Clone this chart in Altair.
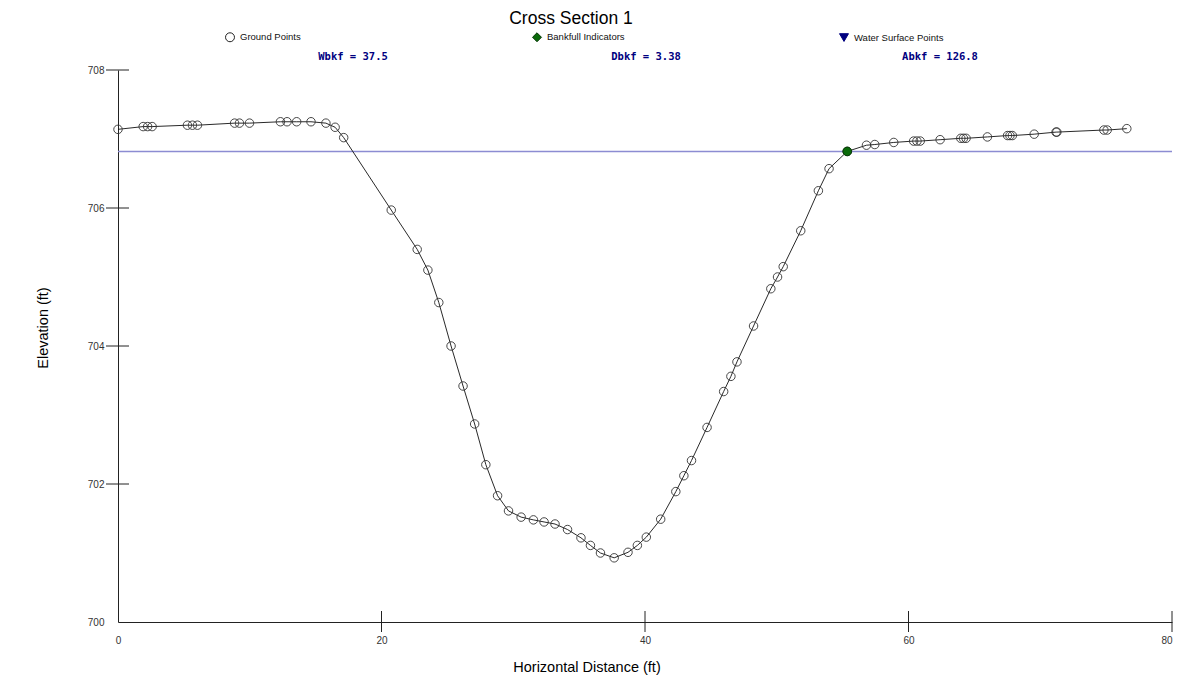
import altair as alt
import pandas as pd

# ---- data ----
station = [0.0, 1.91, 2.25, 2.59, 5.27, 5.65, 6.03, 8.85, 9.22, 9.98,
           12.33, 12.83, 13.56, 14.65, 15.78, 16.48, 17.13, 20.74, 22.71, 23.52,
           24.35, 25.28, 26.19, 27.07, 27.92, 28.81, 29.64, 30.60, 31.53, 32.34,
           33.17, 34.12, 35.14, 35.86, 36.62, 37.66, 38.71, 39.42, 40.10, 41.19,
           42.34, 42.95, 43.53, 44.71, 45.97, 46.52, 46.98, 48.24, 49.55, 50.06,
           50.49, 51.82, 53.16, 53.97, 55.35, 56.81, 57.44, 58.88, 60.39, 60.64,
           60.89, 62.40, 63.97, 64.17, 64.37, 65.99, 67.52, 67.70, 67.88, 69.54,
           71.20, 71.26, 74.83, 75.08, 76.57]
elevation = [707.14, 707.18, 707.18, 707.18, 707.20, 707.20, 707.20, 707.23, 707.23, 707.23,
             707.25, 707.25, 707.25, 707.25, 707.23, 707.17, 707.02, 705.97, 705.40, 705.10,
             704.63, 704.00, 703.42, 702.87, 702.28, 701.83, 701.61, 701.52, 701.48, 701.45,
             701.42, 701.34, 701.22, 701.11, 701.00, 700.93, 701.01, 701.11, 701.23, 701.49,
             701.89, 702.12, 702.34, 702.82, 703.34, 703.56, 703.77, 704.29, 704.83, 705.00,
             705.15, 705.67, 706.25, 706.57, 706.82, 706.91, 706.92, 706.95, 706.97, 706.97,
             706.97, 706.99, 707.01, 707.01, 707.01, 707.03, 707.05, 707.05, 707.05, 707.07,
             707.10, 707.10, 707.13, 707.13, 707.15]

bankfull_station = [55.35]
bankfull_elev = [706.82]
water_surface_elev = [706.82]

series_names = ["Ground Points", "Bankfull Indicators", "Water Surface Points"]
annotation_labels = ["Wbkf = 37.5", "Dbkf = 3.38", "Abkf = 126.8"]
x_ticks = [0, 20, 40, 60, 80]
y_ticks = [700, 702, 704, 706, 708]

chart_title = "Cross Section 1"
x_title = "Horizontal Distance (ft)"
y_title = "Elevation (ft)"

# ---- build tables ----
ground = pd.DataFrame({"x": station, "y": elevation, "i": range(len(station))})
bank = pd.DataFrame({"x": bankfull_station, "y": bankfull_elev})
ws = pd.DataFrame({"y": water_surface_elev})
legend_df = pd.DataFrame({"series": series_names})

W, H = 1054, 552
FONT = "Liberation Sans"

xscale = alt.Scale(domain=[x_ticks[0], x_ticks[-1]], nice=False, zero=False)
yscale = alt.Scale(domain=[y_ticks[0], y_ticks[-1]], nice=False, zero=False)

x_enc = alt.X("x:Q", scale=xscale,
              axis=alt.Axis(values=x_ticks, title=None, ticks=False, grid=False,
                            labelPadding=13, labelFlush=False, domainColor="#222",
                            labelAlign=alt.condition(f"datum.value == {x_ticks[-1]}",
                                                     alt.value("right"), alt.value("center")),
                            labelColor="#333", labelFontSize=10, labelFont=FONT, format="d"))
y_enc = alt.Y("y:Q", scale=yscale,
              axis=alt.Axis(values=y_ticks, title=None, ticks=False, grid=False,
                            labelPadding=14, domainColor="#222", format="d",
                            labelColor="#333", labelFontSize=10, labelFont=FONT))

water = alt.Chart(ws).mark_rule(color="#8c8cd2", strokeWidth=1.5).encode(y=y_enc)

line = alt.Chart(ground).mark_line(color="#111", strokeWidth=0.9).encode(
    x=x_enc, y=y_enc, order="i:Q")

pts = alt.Chart(ground).mark_point(shape="circle", size=72, filled=False,
                                   color="#333", strokeWidth=0.9, opacity=1).encode(
    x=alt.X("x:Q", scale=xscale), y=alt.Y("y:Q", scale=yscale))

bk = alt.Chart(bank).mark_point(shape="circle", size=75, filled=True,
                                fill="#0a6a0a", stroke="#063806", strokeWidth=1,
                                opacity=1).encode(
    x=alt.X("x:Q", scale=xscale), y=alt.Y("y:Q", scale=yscale))

# legend-only layer (no marks drawn; legend comes from explicit scale domains)
leg = alt.Chart(legend_df).mark_point(filled=True, size=80).encode(
    fill=alt.Fill("series:N", scale=alt.Scale(domain=series_names,
                  range=["transparent", "#0a6a0a", "#000080"]), legend=alt.Legend(title=None)),
    stroke=alt.Stroke("series:N", scale=alt.Scale(domain=series_names,
                      range=["#222", "#063806", "#000080"]), legend=alt.Legend(title=None)),
    shape=alt.Shape("series:N", scale=alt.Scale(domain=series_names,
                    range=["circle", "diamond", "triangle-down"]), legend=alt.Legend(title=None)),
).transform_filter("false")

# tick marks crossing the axes
xt = pd.DataFrame({"x": x_ticks[1:]})
yt = pd.DataFrame({"y": y_ticks[1:]})
xtick = alt.Chart(xt).mark_rule(color="#222", strokeWidth=1).encode(
    x=alt.X("x:Q", scale=xscale), y=alt.value(H - 11), y2=alt.value(H + 10))
ytick = alt.Chart(yt).mark_rule(color="#222", strokeWidth=1).encode(
    y=alt.Y("y:Q", scale=yscale), x=alt.value(-12), x2=alt.value(11))

def label(text, px, py, size, font=FONT, weight="normal", color="#000", angle=0):
    return alt.Chart(pd.DataFrame({"t": [text]})).mark_text(
        font=font, fontSize=size, fontWeight=weight, color=color, angle=angle,
        align="center", baseline="middle").encode(
        text="t:N", x=alt.value(px), y=alt.value(py))

texts = [
    label(chart_title, 453, -51, 17.5),
    label(x_title, 469, 598, 14.5),
    label(y_title, -74, 258, 14.5, angle=270),
]
ann_x = [235, 528, 822]
for t, px in zip(annotation_labels, ann_x):
    texts.append(label(t, px, -13, 10.5, font="DejaVu Sans Mono", weight="bold",
                       color="#000080"))

chart = alt.layer(water, line, pts, bk, leg, xtick, ytick, *texts).properties(
    width=W, height=H,
    padding={"left": 110, "top": 62, "right": 2, "bottom": 56},
    autosize=alt.AutoSizeParams(type="none"),
).configure_view(stroke=None).configure_legend(
    orient="none", legendX=107, legendY=-38, direction="horizontal", columns=3,
    gridAlign="all", columnPadding=200, symbolSize=80, labelOffset=5,
    labelFontSize=9.5, labelFont=FONT, labelColor="#111", padding=0,
    symbolStrokeWidth=1, symbolOpacity=1
)

chart.save("out.html", embed_options={"renderer": "svg", "actions": False})
